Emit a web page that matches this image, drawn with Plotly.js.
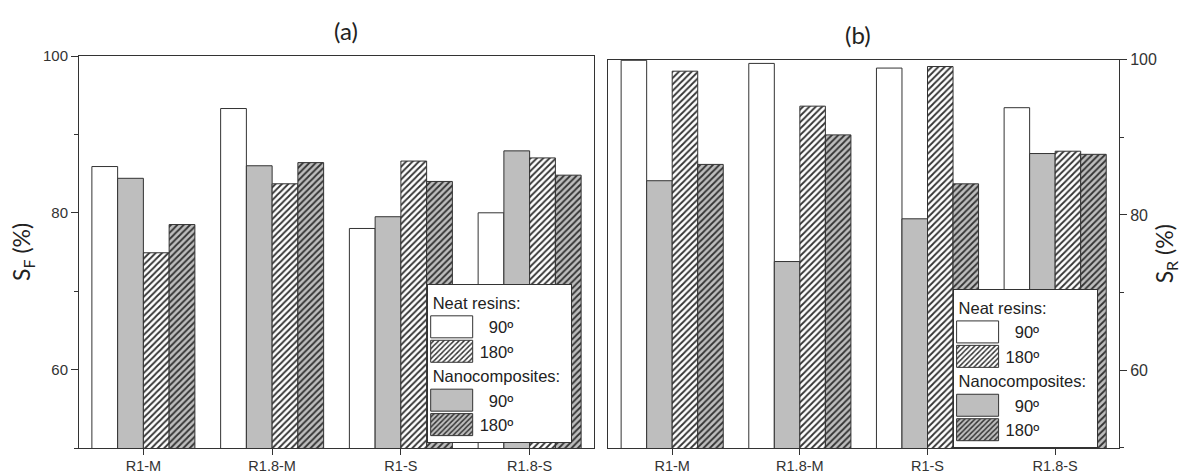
<!DOCTYPE html>
<html><head><meta charset="utf-8">
<script src="https://cdn.plot.ly/plotly-3.0.1.min.js"></script>
<style>html,body{margin:0;padding:0;background:#fff}</style>
</head><body>
<div id="chart" style="width:1181px;height:475px"></div>
<script>
const categories = ['R1-M', 'R1.8-M', 'R1-S', 'R1.8-S'];
// Panel (a): S_F (%)
const sfNeat90  = [85.9, 93.3, 78.0, 80.0];
const sfNano90  = [84.4, 86.0, 79.5, 87.9];
const sfNeat180 = [74.9, 83.7, 86.6, 87.0];
const sfNano180 = [78.5, 86.4, 84.0, 84.8];
// Panel (b): S_R (%)
const srNeat90  = [99.9, 99.5, 98.9, 93.8];
const srNano90  = [84.4, 74.0, 79.5, 87.9];
const srNeat180 = [98.5, 94.0, 99.1, 88.2];
const srNano180 = [86.5, 90.3, 84.0, 87.8];

const seriesNames = ['\u00a0\u00a090º', '180º'];
const groupTitles = ['Neat resins:', 'Nanocomposites:'];
const panelTitles = ['(a)', '(b)'];
const yTitles = ['S<sub>F</sub> (%)', 'S<sub>R</sub> (%)'];

const LINE = '#333333';
const GRAY = '#bebebe';
const TXT = '#333333';
const LEGFONT = {family: 'Liberation Sans, Arial, sans-serif', size: 16.5, color: '#222'};

function bar(y, name, gTitle, gKey, fill, hatched, xa, ya, leg) {
  const marker = {color: fill, line: {color: LINE, width: 1}};
  if (hatched) {
    marker.pattern = {shape: '/', bgcolor: fill, fgcolor: '#333', fgopacity: 1, size: 4.5, solidity: 0.4};
  }
  return {
    type: 'bar', x: categories, y: y, name: name,
    xaxis: xa, yaxis: ya, legend: leg,
    legendgroup: leg + gKey,
    legendgrouptitle: {text: gTitle, font: LEGFONT},
    marker: marker, hoverinfo: 'skip'
  };
}

const data = [
  bar(sfNeat90,  seriesNames[0], groupTitles[0], 'neat', '#ffffff', false, 'x', 'y', 'legend'),
  bar(sfNano90,  seriesNames[0], groupTitles[1], 'nano', GRAY,      false, 'x', 'y', 'legend'),
  bar(sfNeat180, seriesNames[1], groupTitles[0], 'neat', '#ffffff', true,  'x', 'y', 'legend'),
  bar(sfNano180, seriesNames[1], groupTitles[1], 'nano', GRAY,      true,  'x', 'y', 'legend'),
  bar(srNeat90,  seriesNames[0], groupTitles[0], 'neat', '#ffffff', false, 'x2', 'y2', 'legend2'),
  bar(srNano90,  seriesNames[0], groupTitles[1], 'nano', GRAY,      false, 'x2', 'y2', 'legend2'),
  bar(srNeat180, seriesNames[1], groupTitles[0], 'neat', '#ffffff', true,  'x2', 'y2', 'legend2'),
  bar(srNano180, seriesNames[1], groupTitles[1], 'nano', GRAY,      true,  'x2', 'y2', 'legend2')
];

function xAxis(domain, anchor) {
  return {
    domain: domain, anchor: anchor, type: 'category', range: [-0.5, 3.5],
    showline: true, mirror: true, linecolor: LINE, linewidth: 1,
    ticks: 'outside', ticklen: 6, tickcolor: LINE, tickwidth: 1,
    showgrid: false, zeroline: false, fixedrange: true,
    ticklabelstandoff: -1,
    tickfont: {size: 14.5, color: TXT}
  };
}
function yAxis(domain, anchor, side, title, fsize) {
  return {
    domain: domain, anchor: anchor, side: side, range: [50, 100],
    tick0: 0, dtick: 20,
    minor: {dtick: 10, tick0: 0, ticks: 'outside', ticklen: 4, tickcolor: LINE, showgrid: false},
    showline: true, mirror: true, linecolor: LINE, linewidth: 1,
    ticks: 'outside', ticklen: 7, tickcolor: LINE, tickwidth: 1,
    showgrid: false, zeroline: false, fixedrange: true,
    tickfont: {size: fsize, color: TXT},
    title: {text: title, standoff: 5, font: {family: 'Lato, Open Sans, sans-serif', size: 23, color: '#222'}}
  };
}
function legendBox(x, y) {
  return {
    x: x, y: y, xanchor: 'left', yanchor: 'top', xref: 'paper', yref: 'paper',
    bgcolor: '#ffffff', bordercolor: LINE, borderwidth: 1,
    traceorder: 'grouped', tracegroupgap: 0, itemwidth: 42,
    entrywidthmode: 'pixels', entrywidth: 150,
    font: LEGFONT, itemclick: false, itemdoubleclick: false
  };
}

const layout = {
  width: 1181, height: 475,
  margin: {l: 79, r: 62, t: 56, b: 27},
  paper_bgcolor: '#ffffff', plot_bgcolor: '#ffffff',
  barmode: 'group', bargap: 0.2, bargroupgap: 0,
  font: {family: 'Liberation Sans, Arial, sans-serif', color: TXT, size: 15},
  showlegend: true,
  xaxis: xAxis([0, 0.4952], 'y'),
  yaxis: yAxis([0, 1], 'x', 'left', yTitles[0], 15),
  xaxis2: xAxis([0.509, 1], 'y2'),
  yaxis2: yAxis([0, 0.991], 'x2', 'right', yTitles[1], 16),
  legend: legendBox(0.3343, 0.418),
  legend2: legendBox(0.840, 0.405),
  annotations: [
    {text: panelTitles[0], xref: 'paper', yref: 'paper', x: 0.2563, y: 1.064, xanchor: 'center', yanchor: 'middle',
     showarrow: false, font: {family: 'Lato, Open Sans, sans-serif', size: 24, color: '#222'}},
    {text: panelTitles[1], xref: 'paper', yref: 'paper', x: 0.749, y: 1.054, xanchor: 'center', yanchor: 'middle',
     showarrow: false, font: {family: 'Lato, Open Sans, sans-serif', size: 24, color: '#222'}}
  ]
};

Plotly.newPlot('chart', data, layout, {staticPlot: true, displayModeBar: false}).then(function (gd) {
  // enlarge legend swatches (both legends) to wide rectangles as in the original figure
  gd.querySelectorAll('.legendpoints path').forEach(function (p) {
    p.setAttribute('d', 'M-23,11H19V-11H-23Z');
  });
});
</script>
</body></html>
